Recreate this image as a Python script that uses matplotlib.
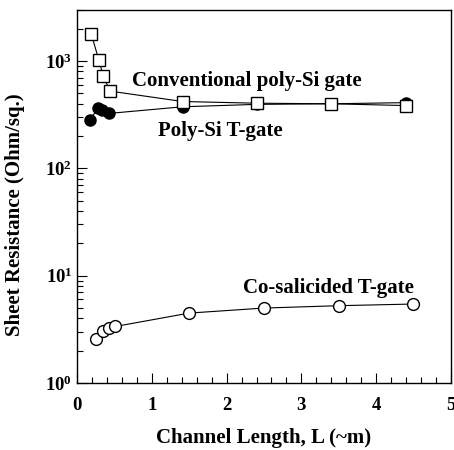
import matplotlib
matplotlib.use("Agg")
import matplotlib.pyplot as plt
from matplotlib.ticker import LogLocator, MultipleLocator, NullFormatter

plt.rcParams['font.family'] = 'Liberation Serif'
plt.rcParams['font.weight'] = 'bold'
plt.rcParams['mathtext.fontset'] = 'stix'
plt.rcParams['mathtext.default'] = 'bf'

# conventional poly-Si gate (open squares)
conv_L = [0.19, 0.29, 0.35, 0.44, 1.41, 2.40, 3.40, 4.40]
conv_R = [1780, 1020, 720, 525, 420, 405, 400, 385]

# poly-Si T-gate (filled circles)
tgate_L = [0.17, 0.28, 0.33, 0.42, 1.41, 2.40, 3.40, 4.40]
tgate_R = [283, 365, 348, 325, 375, 395, 400, 410]

# Co-salicided T-gate (open circles)
co_L = [0.25, 0.34, 0.42, 0.51, 1.50, 2.50, 3.50, 4.50]
co_R = [2.56, 3.06, 3.27, 3.36, 4.48, 4.99, 5.25, 5.44]

fig = plt.figure(figsize=(4.54, 4.5), dpi=100)
ax = fig.add_axes([0.170, 0.149, 0.823, 0.829])

ax.plot(tgate_L, tgate_R, '-o', color='black', lw=0.8, ms=8,
        mfc='black', mec='black', zorder=2)
ax.plot(conv_L, conv_R, '-s', color='black', lw=0.8, ms=8,
        mfc='white', mec='black', mew=1.0, zorder=3)
ax.plot(co_L, co_R, '-o', color='black', lw=0.8, ms=8.5,
        mfc='white', mec='black', mew=1.0, zorder=3)

ax.set_yscale('log')
ax.set_xlim(0, 5)
ax.set_ylim(1, 3000)

ax.xaxis.set_major_locator(MultipleLocator(1))
ax.xaxis.set_minor_locator(MultipleLocator(0.2))
ax.yaxis.set_major_locator(LogLocator(base=10, numticks=10))
ax.yaxis.set_minor_locator(LogLocator(base=10, subs=range(2, 10), numticks=20))
ax.yaxis.set_minor_formatter(NullFormatter())

ax.tick_params(which='both', direction='in', top=False, right=False,
               labelsize=13.5)
ax.tick_params(which='major', length=7, width=0.8)
ax.tick_params(which='minor', length=4, width=0.8)
ax.tick_params(axis='x', pad=10)
for lbl in ax.get_xticklabels() + ax.get_yticklabels():
    lbl.set_fontweight('bold')

for s in ax.spines.values():
    s.set_linewidth(1.0)

ax.set_xlabel('Channel Length, L (~m)', fontsize=15, fontweight='bold', labelpad=10)
ax.set_ylabel('Sheet Resistance (Ohm/sq.)', fontsize=15, fontweight='bold')
ax.yaxis.set_label_coords(-0.14, 0.45)

ax.text(0.735, 650, 'Conventional poly-Si gate', fontsize=15, fontweight='bold', va='center')
ax.text(1.08, 222, 'Poly-Si T-gate', fontsize=15, fontweight='bold', va='center')
ax.text(2.22, 7.7, 'Co-salicided T-gate', fontsize=15, fontweight='bold', va='center')

fig.savefig('out.png', dpi=100)
